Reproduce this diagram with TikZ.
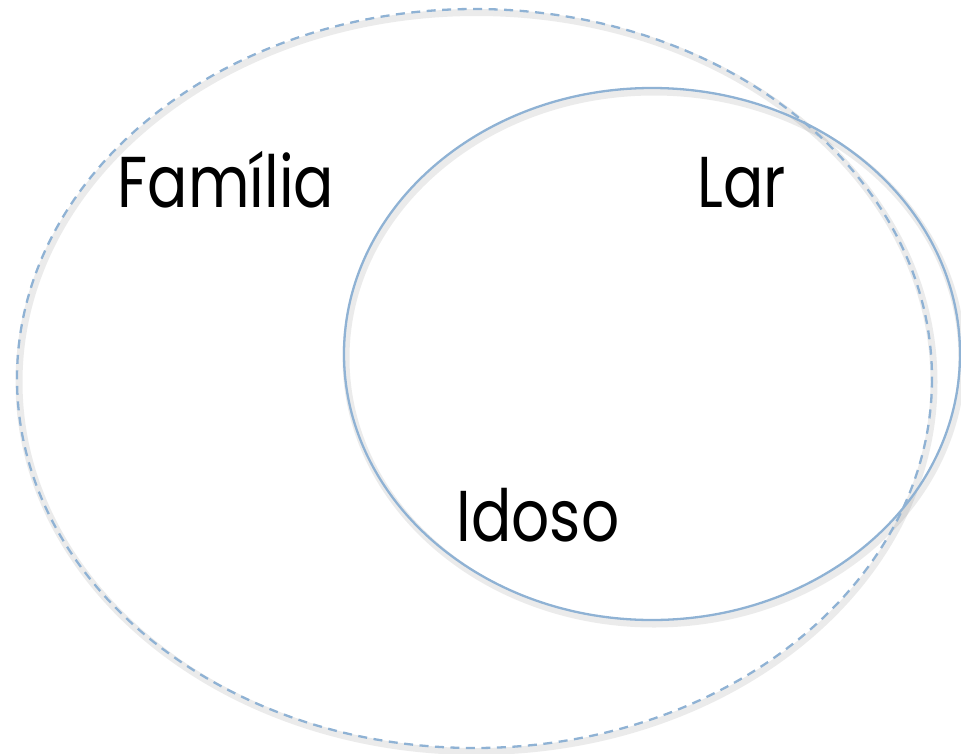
\documentclass[tikz,border=0pt]{standalone}
\usepackage{fontspec}
\setmainfont{Poppins}
\usetikzlibrary{shapes.geometric}
\definecolor{ringblue}{RGB}{143,178,212}
\newcommand{\narrow}[1]{\scalebox{0.83}[1]{#1}}
\tikzset{
  ring/.style={draw=ringblue, line width=2.3pt},
  dashring/.style={ring, dash pattern=on 9pt off 6.5pt},
  ringshadow/.style={draw=black, opacity=0.08, line width=7pt},
  label/.style={font=\fontsize{72}{80}\selectfont, text=black, inner sep=0pt, anchor=base}
}
\begin{document}
\begin{tikzpicture}[x=1pt,y=-1pt]
\useasboundingbox (0,0) rectangle (961,753);
% shadows
\draw[ringshadow] (476.5,382) ellipse [x radius=457.5, y radius=369.5];
\draw[ringshadow] (654,358) ellipse [x radius=308, y radius=266];
% rings
\draw[dashring] (474.5,378.5) ellipse [x radius=457.5, y radius=369.5];
\draw[ring] (652,354) ellipse [x radius=308, y radius=266];
% labels
\node[label] (familia) at (226,207) {\narrow{Família}};
\node[label] (lar) at (742,207) {\narrow{Lar}};
\node[label] (idoso) at (538,541) {\narrow{Idoso}};
\end{tikzpicture}
\end{document}
